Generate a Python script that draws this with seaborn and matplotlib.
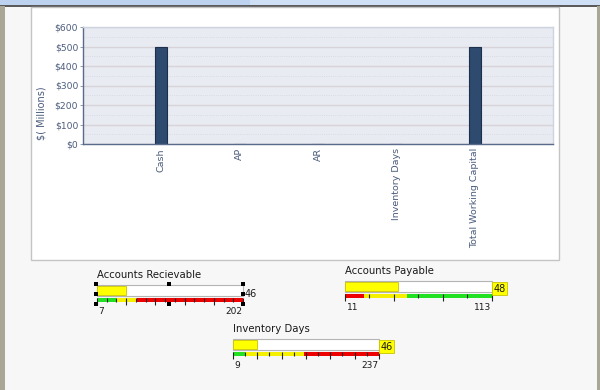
import matplotlib
matplotlib.use("Agg")
import matplotlib.pyplot as plt
import seaborn as sns
import pandas as pd
from matplotlib.patches import Rectangle
from matplotlib.ticker import MultipleLocator, FuncFormatter

# main chart data
categories = ["Cash", "AP", "AR", "Inventory Days", "Total Working Capital"]
values = [500, 0, 0, 0, 500]
y_ticks = [0, 100, 200, 300, 400, 500, 600]

# bullet gauges
gauge_titles = ["Accounts Recievable", "Accounts Payable", "Inventory Days"]
gauge_values = [46, 48, 46]
gauge_min = [7, 11, 9]
gauge_max = [202, 113, 237]
gauge_band_ends = [[32, 60, 202], [24, 54, 113], [28, 120, 237]]
gauge_band_colors = [["#22e022", "#f4f000", "#ee0000"],
                     ["#ee0000", "#f4f000", "#22e022"],
                     ["#22e022", "#f4f000", "#ee0000"]]
gauge_intervals = [15, 6, 12]

W, H = 600, 390
fig = plt.figure(figsize=(6, 3.9), dpi=100)
fig.patch.set_facecolor("#f7f7f7")


def px_rect(x, y, w, h, z=-5, **kw):
    # rectangle given in screen pixels (top-left origin)
    fig.add_artist(Rectangle((x / W, 1 - (y + h) / H), w / W, h / H,
                             transform=fig.transFigure, zorder=z, **kw))


# window chrome and chart panel
px_rect(0, 0, W, 6, facecolor="#cfe0f6", edgecolor="none")
px_rect(0, 0, 250, 6, facecolor="#bcd2ef", edgecolor="none")
px_rect(0, 5.5, W, 1.2, facecolor="#5a5a5a", edgecolor="none")
px_rect(0, 6, 5, H, facecolor="#aaa797", edgecolor="none")
px_rect(597, 6, 3, H, facecolor="#aaa797", edgecolor="none")
px_rect(31, 7, 528, 253, facecolor="white", edgecolor="#c4c4c4", linewidth=1)

text_col = "#4a5b7c"
df = pd.DataFrame({"Category": categories, "Value": values})

ax = fig.add_axes([83 / W, 1 - 144 / H, 470 / W, 117 / H])
sns.barplot(data=df, x="Category", y="Value", ax=ax, width=0.155,
            color="#2e4a6e", saturation=1, edgecolor="#1c2f4d", linewidth=0.8)
ax.set_facecolor("#e8ebf2")
ax.set_xlim(-1, 5)
ax.set_ylim(0, 600)
ax.set_yticks(y_ticks)
ax.yaxis.set_minor_locator(MultipleLocator(50))
ax.yaxis.set_major_formatter(FuncFormatter(lambda v, p: f"${int(v)}"))
ax.grid(axis="y", which="major", color="#d8d3d8", linewidth=1)
ax.grid(axis="y", which="minor", color="#d2d6e0", linewidth=0.6, linestyle=":")
ax.set_axisbelow(True)
ax.tick_params(axis="y", length=2, width=0.6, color="#8090a8", labelsize=6.6,
               labelcolor=text_col, pad=1.5, which="major")
ax.tick_params(axis="y", which="minor", length=0)
ax.tick_params(axis="x", length=0, labelsize=6.8, labelcolor=text_col, pad=3)
plt.setp(ax.get_xticklabels(), rotation=90, va="top", ha="center")
ax.set_xlabel("")
ax.set_ylabel("$( Millions)", fontsize=7, color=text_col)
ax.yaxis.set_label_coords(-36 / 470, 0.265)
for s in ["left", "bottom"]:
    ax.spines[s].set_color("#5a6a8a")
    ax.spines[s].set_linewidth(1)
for s in ["top", "right"]:
    ax.spines[s].set_color("#cdd3e0")
    ax.spines[s].set_linewidth(1)

# gauge placement in screen pixels: left, top, width
gauge_pos = [(97, 285, 146), (345, 281, 147), (233, 339, 146)]
value_boxed = [False, True, True]

for i in range(3):
    gx, gy, gw = gauge_pos[i]
    lo, hi = gauge_min[i], gauge_max[i]
    g = fig.add_axes([gx / W, 1 - (gy + 20) / H, gw / W, 20 / H])
    g.set_xlim(lo, hi)
    g.set_ylim(20, 0)
    g.axis("off")
    # outer box
    g.barh(0, hi - lo, left=lo, height=11, align="edge", color="white",
           edgecolor="#b4b4b4", linewidth=0.8, clip_on=False)
    # value bar
    g.barh(1, gauge_values[i] - lo, left=lo, height=9, align="edge",
           color="#ffff00", edgecolor="#c8c400", linewidth=0.6)
    # colour bands
    starts = [lo] + gauge_band_ends[i][:-1]
    widths = [e - s for s, e in zip(starts, gauge_band_ends[i])]
    g.barh([13] * 3, widths, left=starts, height=4, align="edge",
           color=gauge_band_colors[i], linewidth=0)
    n = gauge_intervals[i]
    step = (hi - lo) / n
    for k in range(n + 1):
        t = lo + k * step
        major = k % (3 if n == 15 else 2) == 0 or k == n
        g.vlines(t, 13, 20 if major else 17, color="#222222", linewidth=0.8,
                 clip_on=False)
    g.text(lo, -10, gauge_titles[i], fontsize=7.3, color="#1a1a1a",
           ha="left", va="center")
    g.text(lo + step * 0.1, 26, str(lo), fontsize=6.5, color="#1a1a1a",
           ha="left", va="center")
    g.text(hi - step * 0.05, 26, str(hi), fontsize=6.5, color="#1a1a1a",
           ha="right", va="center")
    if value_boxed[i]:
        g.text(1.01, 0.62, str(gauge_values[i]), transform=g.transAxes,
               fontsize=7, color="#1a1a1a", ha="left", va="center",
               bbox=dict(boxstyle="square,pad=0.15", facecolor="#ffff00",
                         edgecolor="#c8c400", linewidth=0.6))
    else:
        g.text(1.01, 0.55, str(gauge_values[i]), transform=g.transAxes,
               fontsize=7, color="#1a1a1a", ha="left", va="center")

# design-time selection handles around the first gauge
for hx, hy in [(96, 284), (169, 284), (243, 284), (96, 294), (243, 294),
               (96, 304), (169, 304), (243, 304)]:
    px_rect(hx - 2, hy - 2, 4, 4, z=10, facecolor="black", edgecolor="none")

fig.savefig("out.png", dpi=100, facecolor=fig.get_facecolor())
